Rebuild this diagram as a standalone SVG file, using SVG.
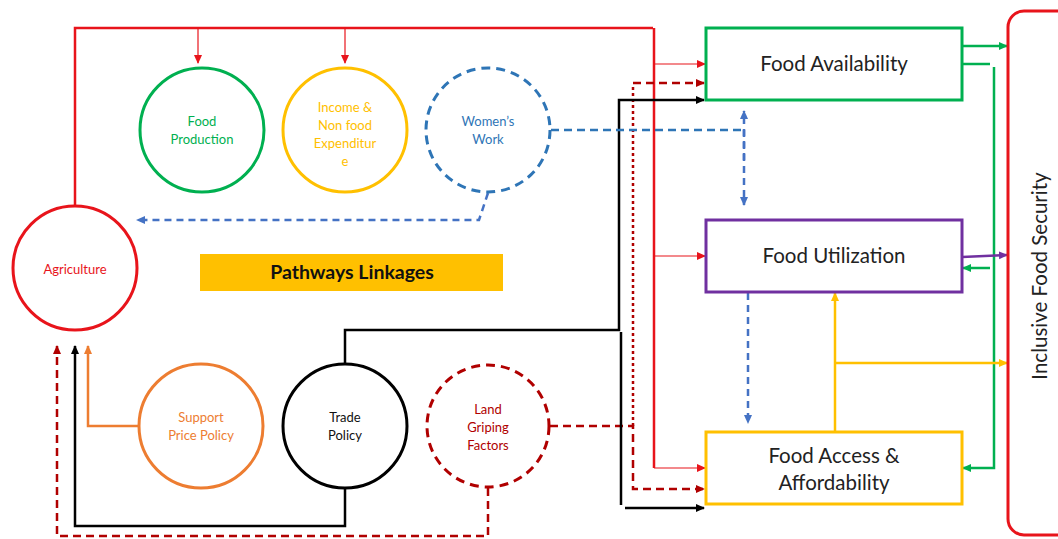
<svg xmlns="http://www.w3.org/2000/svg" width="1058" height="539" viewBox="0 0 1058 539">
<defs>
<style>
.t{font-family:Lato,"Open Sans","Liberation Sans",sans-serif;text-anchor:middle}
.s{font-size:13px}
.b{font-size:20.5px;fill:#222}
.c{fill:#fff;stroke-width:3}
.ln{fill:none;stroke-width:2.5}
.th{fill:none;stroke-width:1.2}
</style>
<marker id="aR" markerWidth="10" markerHeight="10" refX="8" refY="5" orient="auto" markerUnits="userSpaceOnUse"><path d="M0,1 L9,5 L0,9 z" fill="#E8141B"/></marker>
<marker id="aDR" markerWidth="10" markerHeight="10" refX="8" refY="5" orient="auto" markerUnits="userSpaceOnUse"><path d="M0,1 L9,5 L0,9 z" fill="#B00000"/></marker>
<marker id="aK" markerWidth="10" markerHeight="10" refX="8" refY="5" orient="auto" markerUnits="userSpaceOnUse"><path d="M0,1 L9,5 L0,9 z" fill="#000"/></marker>
<marker id="aB" markerWidth="10" markerHeight="10" refX="8" refY="5" orient="auto" markerUnits="userSpaceOnUse"><path d="M0,1 L9,5 L0,9 z" fill="#4472C4"/></marker>
<marker id="aG" markerWidth="10" markerHeight="10" refX="8" refY="5" orient="auto" markerUnits="userSpaceOnUse"><path d="M0,1 L9,5 L0,9 z" fill="#00B050"/></marker>
<marker id="aY" markerWidth="10" markerHeight="10" refX="8" refY="5" orient="auto" markerUnits="userSpaceOnUse"><path d="M0,1 L9,5 L0,9 z" fill="#FFC000"/></marker>
<marker id="aP" markerWidth="10" markerHeight="10" refX="8" refY="5" orient="auto" markerUnits="userSpaceOnUse"><path d="M0,1 L9,5 L0,9 z" fill="#7030A0"/></marker>
<marker id="aO" markerWidth="10" markerHeight="10" refX="8" refY="5" orient="auto" markerUnits="userSpaceOnUse"><path d="M0,1 L9,5 L0,9 z" fill="#ED7D31"/></marker>
</defs>
<rect width="1058" height="539" fill="#fff"/>

<g id="connectors">
  <path class="ln" stroke="#E8141B" d="M75,205 V28 H653"/>
  <path class="ln" stroke="#E8141B" d="M654,28 V468"/>
  <path class="th" stroke="#E8141B" d="M198,28 V63" marker-end="url(#aR)"/>
  <path class="th" stroke="#E8141B" d="M345,28 V63" marker-end="url(#aR)"/>
  <path class="th" stroke="#E8141B" d="M654,64 H705" marker-end="url(#aR)"/>
  <path class="th" stroke="#E8141B" d="M654,256 H705" marker-end="url(#aR)"/>
  <path class="th" stroke="#E8141B" d="M654,468 H705" marker-end="url(#aR)"/>
  <path class="ln" stroke="#B00000" stroke-width="3" stroke-dasharray="3,3" d="M633,426 V84"/>
  <path class="ln" stroke="#B00000" stroke-dasharray="8,5" d="M633,83 H704" marker-end="url(#aDR)"/>
  <path class="ln" stroke="#B00000" stroke-dasharray="8,5" d="M550,426 H633 V489 H704" marker-end="url(#aDR)"/>
  <path class="ln" stroke="#B00000" stroke-dasharray="8,5" d="M488,488 V536 H57 V346" marker-end="url(#aDR)"/>
  <path class="ln" stroke="#000" d="M345,364 V330 H619 V100 H704" marker-end="url(#aK)"/>
  <path class="ln" stroke="#000" d="M621,332 V505"/>
  <path class="ln" stroke="#000" d="M625,508 H704" marker-end="url(#aK)"/>
  <path class="ln" stroke="#000" d="M345,488 V526 H75 V346" marker-end="url(#aK)"/>
  <path class="ln" stroke="#ED7D31" d="M139,426 H88 V346" marker-end="url(#aO)"/>
  <path class="ln" stroke="#2E75B6" stroke-dasharray="8,5" d="M551,130 H743"/>
  <path class="ln" stroke="#4472C4" stroke-width="2" stroke-dasharray="7,5" d="M744,160 V111" marker-end="url(#aB)"/>
  <path class="ln" stroke="#4472C4" stroke-width="2" stroke-dasharray="7,5" d="M744,130 V205" marker-end="url(#aB)"/>
  <path class="ln" stroke="#4472C4" stroke-width="2" stroke-dasharray="7,5" d="M488,193 L479,220 H137" marker-end="url(#aB)"/>
  <path class="ln" stroke="#4472C4" stroke-width="2" stroke-dasharray="7,5" d="M748,293 V423" marker-end="url(#aB)"/>
  <path class="ln" stroke="#00B050" stroke-width="2" d="M962,46 H1007" marker-end="url(#aG)"/>
  <path class="ln" stroke="#00B050" stroke-width="2" d="M962,64 H990"/>
  <path class="ln" stroke="#00B050" stroke-width="2" d="M994,67 V468 H963" marker-end="url(#aG)"/>
  <path class="ln" stroke="#00B050" stroke-width="2" d="M990,268 H963" marker-end="url(#aG)"/>
  <path class="ln" stroke="#7030A0" stroke-width="2" d="M962,257 L1007,255" marker-end="url(#aP)"/>
  <path class="ln" stroke="#FFC000" stroke-width="2" d="M835,432 V293" marker-end="url(#aY)"/>
  <path class="ln" stroke="#FFC000" stroke-width="2" d="M835,363 H1007" marker-end="url(#aY)"/>
</g>

<g id="agriculture">
  <circle class="c" cx="75" cy="268" r="62" stroke="#E8141B"/>
  <text class="t s" x="75" y="274" fill="#E8141B">Agriculture</text>
</g>
<g id="food-production">
  <circle class="c" cx="202" cy="130" r="62" stroke="#00B050"/>
  <text class="t s" x="202" y="126" fill="#00B050">Food</text>
  <text class="t s" x="202" y="144" fill="#00B050">Production</text>
</g>
<g id="income">
  <circle class="c" cx="345" cy="130" r="62" stroke="#FFC000"/>
  <text class="t s" x="345" y="112" fill="#FFC000">Income &amp;</text>
  <text class="t s" x="345" y="130" fill="#FFC000">Non food</text>
  <text class="t s" x="345" y="148" fill="#FFC000">Expenditur</text>
  <text class="t s" x="345" y="166" fill="#FFC000">e</text>
</g>
<g id="womens-work">
  <circle class="c" cx="488" cy="130" r="62" stroke="#2E75B6" stroke-dasharray="9,6"/>
  <text class="t s" x="488" y="126" fill="#2E75B6">Women’s</text>
  <text class="t s" x="488" y="144" fill="#2E75B6">Work</text>
</g>
<g id="pathways">
  <rect x="200" y="254" width="303" height="37" fill="#FFC000"/>
  <text class="t" x="352" y="279" font-size="19.5" font-weight="bold" fill="#111">Pathways Linkages</text>
</g>
<g id="support-price">
  <circle class="c" cx="201" cy="426" r="62" stroke="#ED7D31"/>
  <text class="t s" x="201" y="422" fill="#ED7D31">Support</text>
  <text class="t s" x="201" y="440" fill="#ED7D31">Price Policy</text>
</g>
<g id="trade-policy">
  <circle class="c" cx="345" cy="426" r="62" stroke="#000"/>
  <text class="t s" x="345" y="422" fill="#111">Trade</text>
  <text class="t s" x="345" y="440" fill="#111">Policy</text>
</g>
<g id="land-griping">
  <circle class="c" cx="488" cy="426" r="61" stroke="#B00000" stroke-dasharray="9,6"/>
  <text class="t s" x="488" y="414" fill="#B00000">Land</text>
  <text class="t s" x="488" y="432" fill="#B00000">Griping</text>
  <text class="t s" x="488" y="450" fill="#B00000">Factors</text>
</g>
<g id="food-availability">
  <rect x="706" y="28" width="256" height="72" fill="#fff" stroke="#00B050" stroke-width="3"/>
  <text class="t b" x="834" y="71">Food Availability</text>
</g>
<g id="food-utilization">
  <rect x="706" y="220" width="256" height="72" fill="#fff" stroke="#7030A0" stroke-width="3"/>
  <text class="t b" x="834" y="263">Food Utilization</text>
</g>
<g id="food-access">
  <rect x="706" y="432" width="256" height="72" fill="#fff" stroke="#FFC000" stroke-width="3"/>
  <text class="t b" x="834" y="463">Food Access &amp;</text>
  <text class="t b" x="834" y="490">Affordability</text>
</g>
<g id="inclusive">
  <rect x="1008" y="11" width="70" height="524" rx="16" fill="#fff" stroke="#E8141B" stroke-width="3"/>
  <text class="t b" transform="translate(1047,276) rotate(-90)" x="0" y="0">Inclusive Food Security</text>
</g>
</svg>
